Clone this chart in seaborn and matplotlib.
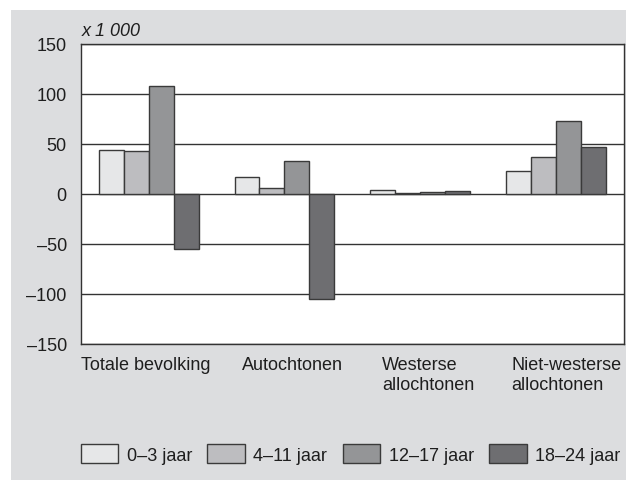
import matplotlib
matplotlib.use("Agg")
import matplotlib.pyplot as plt
import matplotlib.transforms as mtransforms
from matplotlib.patches import Rectangle
import seaborn as sns
import pandas as pd

categories = ["Totale bevolking", "Autochtonen", "Westerse\nallochtonen", "Niet-westerse\nallochtonen"]
age_groups = ["0–3 jaar", "4–11 jaar", "12–17 jaar", "18–24 jaar"]
v_0_3 = [44, 17, 4, 23]
v_4_11 = [43, 5.5, 1, 37]
v_12_17 = [107.5, 33, 1.5, 73]
v_18_24 = [-55.5, -105, 3, 46.5]
yticks = [-150, -100, -50, 0, 50, 100, 150]
ytick_labels = ["–150", "–100", "–50", "0", "50", "100", "150"]
colors = ["#e6e7e8", "#bcbdc0", "#939598", "#6d6e71"]

rows = []
for grp, vals in zip(age_groups, [v_0_3, v_4_11, v_12_17, v_18_24]):
    for cat, v in zip(categories, vals):
        rows.append({"cat": cat, "age": grp, "val": v})
df = pd.DataFrame(rows)

sns.set_theme(style="white")
plt.rcParams["font.family"] = ["Liberation Sans", "DejaVu Sans"]

FS = 13
TXT = "#1e1e1e"
W, H = 626, 481
fig = plt.figure(figsize=(W / 100, H / 100), dpi=100, facecolor="white")
fig.patches.append(Rectangle((11 / W, 0), 1 - 11 / W, 1 - 11 / H, transform=fig.transFigure,
                             facecolor="#dcdddf", edgecolor="none", zorder=-10))

ax = fig.add_axes([80.7 / W, (H - 344.5) / H, (624 - 80.7) / W, (344.5 - 45) / H])
ax.set_facecolor("white")

sns.barplot(data=df, x="cat", y="val", hue="age", order=categories, hue_order=age_groups,
            palette=dict(zip(age_groups, colors)), width=0.735, dodge=True,
            edgecolor="#3a3a3a", linewidth=1.0, errorbar=None, ax=ax, zorder=3)

ax.set_ylim(-150, 150)
ax.set_xlim(-0.5, 3.5)
ax.set_yticks(yticks)
ax.set_yticklabels(ytick_labels, fontsize=FS, color=TXT)
ax.yaxis.grid(True, color="#333333", linewidth=1.0)
ax.set_axisbelow(True)
ax.tick_params(axis="y", length=0, pad=10)
ax.tick_params(axis="x", length=0, pad=9)
ax.set_xlabel("")
ax.set_ylabel("")
for s in ax.spines.values():
    s.set_color("#333333")
    s.set_linewidth(1.0)

ax.set_xticks(range(len(categories)))
ax.set_xticklabels(categories, fontsize=FS, color=TXT, ha="left", linespacing=1.2)
offsets_px = [-67.5, -42.5, -38.5, -44.5]
for lab, off in zip(ax.get_xticklabels(), offsets_px):
    lab.set_transform(lab.get_transform() + mtransforms.ScaledTranslation(off / 100, 0, fig.dpi_scale_trans))
    lab.set_verticalalignment("top")

fig.text(82 / W, (H - 32) / H, "x 1 000", fontsize=FS, style="italic", va="center", ha="left", color=TXT)

handles, labels = ax.get_legend_handles_labels()
ax.legend_.remove()
leg = fig.legend(handles, labels, loc="center left", bbox_to_anchor=(80.5 / W, (H - 455) / H),
                 ncol=4, frameon=False, fontsize=FS, handlelength=2.1, handleheight=1.25,
                 handletextpad=0.45, columnspacing=0.85, borderpad=0, borderaxespad=0)
for t in leg.get_texts():
    t.set_color(TXT)

fig.savefig("out.png", dpi=100, facecolor="white")
